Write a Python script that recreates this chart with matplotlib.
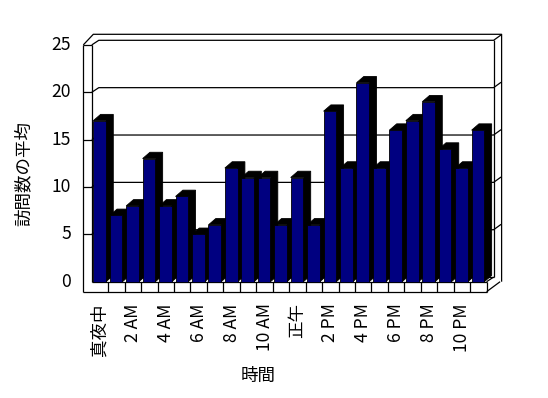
import matplotlib
matplotlib.use("Agg")
import matplotlib.pyplot as plt
from matplotlib.patches import Rectangle, Polygon

plt.rcParams['font.family'] = ['Noto Sans CJK JP', 'DejaVu Sans']

# average visits per hour (0..23)
hours = list(range(24))
visits = [17, 7, 8, 13, 8, 9, 5, 6, 12, 11, 11, 6,
          11, 6, 18, 12, 21, 12, 16, 17, 19, 14, 12, 16]
tick_labels = ["真夜中", "2 AM", "4 AM", "6 AM", "8 AM", "10 AM",
               "正午", "2 PM", "4 PM", "6 PM", "8 PM", "10 PM"]
y_ticks = [0, 5, 10, 15, 20, 25]

W, H = 548, 398
fig = plt.figure(figsize=(W / 100, H / 100), dpi=100)

# front plane of the 3D box in pixels
x0, x1 = 91.8, 486.6
y0, ytop = 281.7, 44.9
ax = fig.add_axes([x0 / W, 1 - y0 / H, (x1 - x0) / W, (y0 - ytop) / H])
ax.set_xlim(0, 24)
ax.set_ylim(0, 25)
ax.axis("off")

sx = (x1 - x0) / 24   # px per category
sy = (y0 - ytop) / 25  # px per unit


def px(dx=0, dy=0):
    # pixel offset -> data offset (dy positive = up)
    return dx / sx, dy / sy


lw = 0.9
kw = dict(color="black", lw=lw, clip_on=False, solid_capstyle="butt")

# offsets for walls
wdx, wdy = px(7, 4.6)        # back inner wall
odx, ody = px(15, 10.6)      # outer back frame
slab, _ = px(8.5, 0)         # left wall thickness
_, fl = px(0, 10)            # floor thickness

# back wall grid lines with diagonals
for v in y_ticks[1:]:
    ax.plot([0, wdx, 24 + wdx, 24 + odx - px(0.5)[0]],
            [v, v + wdy, v + wdy, v + wdy + px(0, 5.4)[1]], **kw)
    if v < 25:
        ax.plot([-slab, 0], [v, v], **kw)

# outer frame
ax.plot([-slab, -slab], [25, -fl], **kw)
ax.plot([0, 0], [25, 0], **kw)
ax.plot([-slab, 0], [25, 25], **kw)
ax.plot([-slab, -slab + px(10)[0], 24 + odx, 24 + odx],
        [25, 25 + ody, 25 + ody, 0], **kw)
ax.plot([24 + wdx, 24 + wdx], [25 + wdy, wdy], **kw)
ax.plot([wdx, 24 + wdx], [wdy, wdy], **kw)

# floor
ax.plot([0, 24], [0, 0], **kw)
ax.plot([-slab, 24], [-fl, -fl], **kw)
ax.plot([24, 24 + wdx], [0, wdy], **kw)
ax.plot([24, 24 + odx - px(1.5)[0]], [-fl, 0], **kw)
for k in range(1, 25):
    ax.plot([k, k], [0, -fl], **kw)

# bars
bx, bw = px(1.5)[0], px(12.7)[0]
bdx, bdy = px(7.3, 6.3)
for i, v in zip(hours, visits):
    xl, xr = i + bx, i + bx + bw
    shade = Polygon([(xl, v), (xl + bdx, v + bdy), (xr + bdx, v + bdy),
                     (xr + bdx, bdy), (xr, 0), (xr, v)],
                    closed=True, facecolor="black", edgecolor="black",
                    lw=0.6, clip_on=False, zorder=3 + 2 * i)
    ax.add_patch(shade)
    ax.add_patch(Rectangle((xl, 0), bw, v, facecolor="#000080",
                           edgecolor="black", lw=0.6, clip_on=False,
                           zorder=4 + 2 * i))

# y tick labels
fs = 12.6
for v in y_ticks:
    ax.text(px(-21)[0], v, str(v), ha="right", va="center", fontsize=fs)

# x tick labels
for j, lab in enumerate(tick_labels):
    ax.text(2 * j + 0.5, -px(0, 21.6)[1], lab, rotation=90,
            ha="center", va="top", fontsize=fs)

fig.text(23.5 / W, 1 - 174 / H, "訪問数の平均", rotation=90,
         ha="center", va="center", fontsize=fs)
fig.text(258.3 / W, 1 - 375.5 / H, "時間", ha="center", va="center",
         fontsize=fs)

fig.savefig("out.png", dpi=100)
